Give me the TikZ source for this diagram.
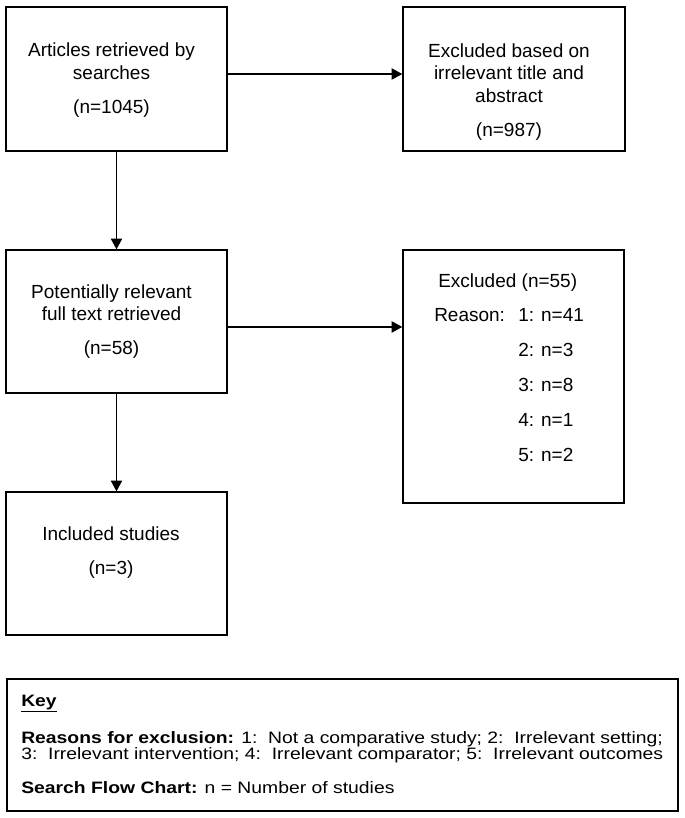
\documentclass[tikz,border=0pt]{standalone}
\usepackage{fontspec}
\setmainfont{Liberation Sans}
\newfontfamily\keyfont[FakeStretch=1.17]{Liberation Sans}
\usetikzlibrary{arrows.meta}
\begin{document}
\begin{tikzpicture}[x=0.75pt,y=-0.75pt,
	box/.style={draw,line width=1.1pt,inner sep=0pt,minimum width=165.75pt,minimum height=#1},
	box/.default=108pt,
	txt/.style={font=\fontsize{14.25}{17}\selectfont,inner sep=0pt,anchor=base},
	arr/.style={draw,line width=0.9pt,-{Triangle[length=8pt,width=8.5pt]}}]
\useasboundingbox (0,0) rectangle (685,818);
% boxes
\node[box] (arts) at (116.5,79) {};
\node[box,minimum width=166.5pt] (exab) at (514,79) {};
\node[box=107.25pt] (full) at (116.5,321.5) {};
\node[box=189.75pt] (excl) at (513.5,376.5) {};
\node[box=107.25pt] (incl) at (116.5,563.5) {};
\node[box=99pt,minimum width=503.25pt] (key) at (342.5,745) {};
% texts
\node[txt] (artsT) at (111.5,56.7) {\parbox[t]{160pt}{\centering
	Articles retrieved by\\searches\\[8.5pt](n=1045)}};
\node[txt] (exabT) at (509,57) {\parbox[t]{160pt}{\centering
	Excluded based on\\irrelevant title and\\abstract\\[8.5pt](n=987)}};
\node[txt] (fullT) at (111.5,298) {\parbox[t]{160pt}{\centering
	Potentially relevant\\full text retrieved\\[8.5pt](n=58)}};
\node[txt,anchor=base west,font=\fontsize{14.25}{26.1}\selectfont] (exclT) at (434,287) {\parbox[t]{160pt}{%
	\hspace*{3pt}Excluded (n=55)\\
	\makebox[63pt][l]{Reason:}1: n=41\\
	\hspace*{63pt}2: n=3\\
	\hspace*{63pt}3: n=8\\
	\hspace*{63pt}4: n=1\\
	\hspace*{63pt}5: n=2}};
\node[txt] (inclT) at (111,540) {\parbox[t]{160pt}{\centering
	Included studies\\[8.5pt](n=3)}};
\node[txt,anchor=base west,font=\keyfont\fontsize{12.4}{12}\selectfont] (keyT) at (21,706) {\parbox[t]{500pt}{\raggedright
	\underline{\textbf{Key}}\\[13.5pt]
	\textbf{Reasons for exclusion:} 1:\ \ Not a comparative study; 2:\ \ Irrelevant setting;\\
	3:\ \ Irrelevant intervention; 4:\ \ Irrelevant comparator; 5:\ \ Irrelevant outcomes\\[13.5pt]
	\textbf{Search Flow Chart:} n = Number of studies}};
% arrows
\coordinate (c1) at ([yshift=3.75pt]arts.east);
\coordinate (c2) at ([yshift=-4.1pt]full.east);
\draw[arr] (c1) -- (c1 -| exab.west);
\draw[arr] (c2) -- (c2 -| excl.west);
\draw[arr] (arts.south) -- (full.north);
\draw[arr] (full.south) -- (incl.north);
\end{tikzpicture}
\end{document}
